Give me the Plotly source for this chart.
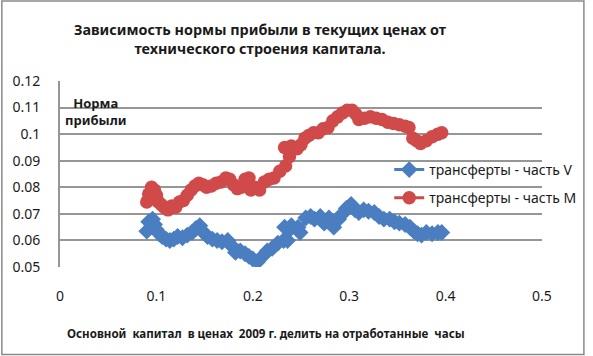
import plotly.graph_objects as go

# ---- data ----
m_x = [0.090, 0.092, 0.095, 0.098, 0.100, 0.102, 0.105, 0.108, 0.112, 0.116,
       0.120, 0.124, 0.128, 0.132, 0.136, 0.140, 0.144, 0.148, 0.152, 0.157,
       0.162, 0.167, 0.172, 0.176, 0.180, 0.184, 0.188, 0.192, 0.196, 0.198,
       0.202, 0.207, 0.212, 0.217, 0.222, 0.228, 0.234, 0.238, 0.233, 0.240,
       0.246, 0.250, 0.254, 0.258, 0.263, 0.268, 0.273, 0.278, 0.283, 0.288,
       0.293, 0.298, 0.303, 0.307, 0.310, 0.316, 0.322, 0.328, 0.334, 0.340,
       0.346, 0.352, 0.358, 0.362, 0.366, 0.370, 0.374, 0.380, 0.386, 0.392,
       0.396]
m_y = [0.0745, 0.0775, 0.0800, 0.0790, 0.0770, 0.0745, 0.0735, 0.0725, 0.0715, 0.0730,
       0.0725, 0.0745, 0.0750, 0.0770, 0.0790, 0.0805, 0.0815, 0.0810, 0.0800, 0.0805,
       0.0815, 0.0820, 0.0835, 0.0830, 0.0810, 0.0795, 0.0800, 0.0830, 0.0835, 0.0790,
       0.0800, 0.0790, 0.0820, 0.0830, 0.0835, 0.0860, 0.0880, 0.0915, 0.0950, 0.0955,
       0.0945, 0.0960, 0.0985, 0.0995, 0.1005, 0.1005, 0.1020, 0.1025, 0.1050, 0.1065,
       0.1080, 0.1090, 0.1090, 0.1075, 0.1055, 0.1060, 0.1065, 0.1060, 0.1055, 0.1045,
       0.1040, 0.1035, 0.1030, 0.1025, 0.0985, 0.0975, 0.0965, 0.0975, 0.0990, 0.1000,
       0.1005]

v_x = [0.090, 0.092, 0.096, 0.098, 0.100, 0.103, 0.106, 0.110, 0.114, 0.118,
       0.122, 0.127, 0.132, 0.137, 0.141, 0.145, 0.149, 0.153, 0.158, 0.163,
       0.168, 0.174, 0.178, 0.182, 0.187, 0.192, 0.196, 0.200, 0.205, 0.210,
       0.215, 0.220, 0.226, 0.232, 0.236, 0.238, 0.233, 0.240, 0.247, 0.249,
       0.255, 0.260, 0.264, 0.270, 0.274, 0.279, 0.284, 0.289, 0.293, 0.297,
       0.302, 0.306, 0.310, 0.315, 0.320, 0.326, 0.331, 0.336, 0.342, 0.347,
       0.352, 0.358, 0.363, 0.367, 0.371, 0.375, 0.380, 0.386, 0.392, 0.396]
v_y = [0.0635, 0.0670, 0.0680, 0.0660, 0.0640, 0.0625, 0.0615, 0.0605, 0.0600, 0.0605,
       0.0615, 0.0610, 0.0620, 0.0630, 0.0645, 0.0655, 0.0630, 0.0615, 0.0605, 0.0600,
       0.0595, 0.0600, 0.0580, 0.0555, 0.0560, 0.0550, 0.0540, 0.0530, 0.0520, 0.0540,
       0.0560, 0.0570, 0.0590, 0.0600, 0.0600, 0.0640, 0.0650, 0.0655, 0.0650, 0.0630,
       0.0685, 0.0690, 0.0680, 0.0690, 0.0665, 0.0685, 0.0650, 0.0680, 0.0700, 0.0720,
       0.0735, 0.0715, 0.0705, 0.0715, 0.0710, 0.0705, 0.0690, 0.0680, 0.0680, 0.0670,
       0.0665, 0.0660, 0.0650, 0.0635, 0.0625, 0.0620, 0.0630, 0.0625, 0.0630, 0.0630]

series_names = ["трансферты - часть V", "трансферты - часть М"]
x_tick_vals = [0, 0.1, 0.2, 0.3, 0.4, 0.5]
x_tick_text = ["0", "0.1", "0.2", "0.3", "0.4", "0.5"]
y_tick_vals = [0.05, 0.06, 0.07, 0.08, 0.09, 0.10, 0.11, 0.12]
y_tick_text = ["0.05", "0.06", "0.07", "0.08", "0.09", "0.1", "0.11", "0.12"]

title_text = "<b>Зависимость нормы прибыли в текущих ценах от<br>технического строения капитала.</b>"
x_title_text = "<b>Основной  капитал  в ценах  2009 г. делить на отработанные  часы</b>"
y_note_text = "<b>Норма<br>прибыли</b>"

# ---- figure ----
W, H = 593, 356
ML, MR, MT, MB = 60, 44, 81, 89
PW, PH = W - ML - MR, H - MT - MB

FONT = "Noto Sans"
BLUE = "#4A7EC0"
RED = "#D04A4A"
GRID = "#969696"
TXT = "#1a1a1a"

fig = go.Figure()
fig.add_trace(go.Scatter(
    x=v_x, y=v_y, mode="lines+markers", name=series_names[0], legendgroup="v",
    line=dict(color=BLUE, width=3),
    marker=dict(symbol="diamond", size=13, color=BLUE),
))
fig.add_trace(go.Scatter(
    x=m_x, y=m_y, mode="lines+markers", name=series_names[1], legendgroup="m",
    line=dict(color=RED, width=3),
    marker=dict(symbol="circle", size=13.5, color=RED),
))

fig.update_layout(
    width=W, height=H,
    margin=dict(l=ML, r=MR, t=MT, b=MB),
    paper_bgcolor="white", plot_bgcolor="white",
    font=dict(family=FONT, size=13, color=TXT),
    title=dict(text=title_text, x=260 / W, xanchor="center", xref="container",
               y=1 - 35 / H, yanchor="middle", yref="container",
               font=dict(family=FONT, size=14.4, color=TXT)),
    showlegend=True,
    legend=dict(x=(394 - ML) / PW, xanchor="left", y=1 - (154 - MT) / PH, yanchor="top",
                bgcolor="rgba(0,0,0,0)", font=dict(family=FONT, size=14, color=TXT),
                tracegroupgap=7, itemwidth=30),
    xaxis=dict(range=[0, 0.5], tickvals=x_tick_vals, ticktext=x_tick_text,
               showgrid=False, zeroline=False, showline=False,
               ticks="outside", ticklen=16, tickcolor="rgba(0,0,0,0)",
               tickfont=dict(family=FONT, size=14, color=TXT)),
    yaxis=dict(range=[0.05, 0.12], tickvals=y_tick_vals, ticktext=y_tick_text,
               showgrid=True, gridcolor=GRID, gridwidth=2, zeroline=False,
               showline=True, linecolor=GRID, linewidth=2,
               ticks="outside", ticklen=15, tickcolor="rgba(0,0,0,0)",
               tickfont=dict(family=FONT, size=14, color=TXT)),
)

fig.add_annotation(text=x_title_text, xref="paper", yref="paper",
                   x=(269 - ML) / PW, y=1 - (333 - MT) / PH, xanchor="center", yanchor="middle",
                   showarrow=False, font=dict(family=FONT, size=11.6, color=TXT))
fig.add_annotation(text=y_note_text, xref="paper", yref="paper",
                   x=(97 - ML) / PW, y=1 - (111 - MT) / PH, xanchor="center", yanchor="middle",
                   align="center", showarrow=False,
                   font=dict(family=FONT, size=13, color=TXT))

# outer chart border
fig.add_shape(type="rect", xref="paper", yref="paper",
              x0=-(ML - 1) / PW, x1=1 + (MR - 1.5) / PW,
              y0=-(MB - 1.5) / PH, y1=1 + (MT - 1) / PH,
              line=dict(color="#8a8a8a", width=1.5), layer="below")

fig.write_html("out.html", config={"displayModeBar": False},
               post_script="document.body.style.margin='0';")
